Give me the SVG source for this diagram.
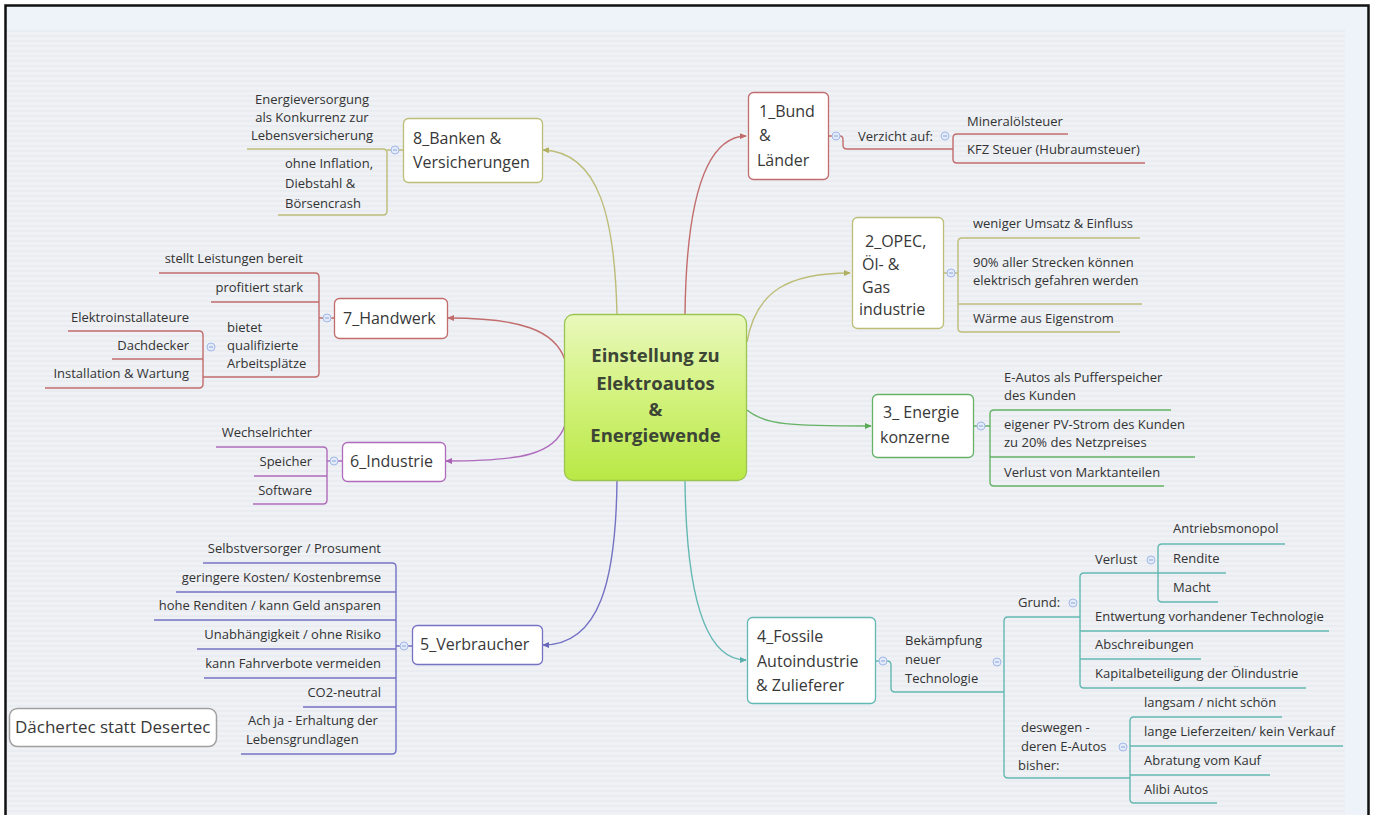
<svg xmlns="http://www.w3.org/2000/svg" width="1376" height="815" viewBox="0 0 1376 815">
<defs>
<style>
.t{font-family:"Open Sans","Noto Sans","DejaVu Sans",sans-serif;font-size:13px;fill:#333}
.ti{font-family:"Open Sans","Noto Sans","DejaVu Sans",sans-serif;font-size:16px;fill:#383838}
.ct{font-family:"Open Sans","Noto Sans","DejaVu Sans",sans-serif;font-size:18.5px;font-weight:bold;fill:#3c4536}
.e{text-anchor:end}
.m{text-anchor:middle}
.box{fill:#fff;stroke-width:1.3}
.ln{fill:none;stroke-width:1.4}
.cc{fill:#e3ebfa;stroke:#a2b8e6;stroke-width:1}
.cm{stroke:#8aa4d8;stroke-width:1}
.red{stroke:#c26c6c}
.olv{stroke:#bdbd78}
.grn{stroke:#66b266}
.tea{stroke:#64b8b2}
.blu{stroke:#7672c4}
.pur{stroke:#b06cbc}
</style>
<linearGradient id="cg" x1="0" y1="0" x2="0" y2="1">
<stop offset="0" stop-color="#e9f8bc"/>
<stop offset="0.5" stop-color="#d2f27c"/>
<stop offset="1" stop-color="#b9e845"/>
</linearGradient>
<pattern id="stripes" width="8" height="5" patternUnits="userSpaceOnUse">
<rect width="8" height="5" fill="#eff1f5"/>
<rect y="0" width="8" height="2" fill="#e9ecf1"/>
</pattern>
<marker id="aRed" viewBox="0 0 8 7" refX="7" refY="3.5" markerWidth="7" markerHeight="6" markerUnits="userSpaceOnUse" orient="auto"><path d="M0,0 L8,3.5 L0,7 z" fill="#c26c6c"/></marker>
<marker id="aOlv" viewBox="0 0 8 7" refX="7" refY="3.5" markerWidth="7" markerHeight="6" markerUnits="userSpaceOnUse" orient="auto"><path d="M0,0 L8,3.5 L0,7 z" fill="#b0b060"/></marker>
<marker id="aGrn" viewBox="0 0 8 7" refX="7" refY="3.5" markerWidth="7" markerHeight="6" markerUnits="userSpaceOnUse" orient="auto"><path d="M0,0 L8,3.5 L0,7 z" fill="#58aa58"/></marker>
<marker id="aTea" viewBox="0 0 8 7" refX="7" refY="3.5" markerWidth="7" markerHeight="6" markerUnits="userSpaceOnUse" orient="auto"><path d="M0,0 L8,3.5 L0,7 z" fill="#58b0aa"/></marker>
<marker id="aBlu" viewBox="0 0 8 7" refX="7" refY="3.5" markerWidth="7" markerHeight="6" markerUnits="userSpaceOnUse" orient="auto"><path d="M0,0 L8,3.5 L0,7 z" fill="#6a66bc"/></marker>
<marker id="aPur" viewBox="0 0 8 7" refX="7" refY="3.5" markerWidth="7" markerHeight="6" markerUnits="userSpaceOnUse" orient="auto"><path d="M0,0 L8,3.5 L0,7 z" fill="#a862b4"/></marker>
</defs>

<!-- background and frame -->
<rect x="0" y="0" width="1376" height="815" fill="#ffffff"/>
<rect x="6" y="6" width="1362" height="809" fill="#eef3fa"/>
<rect x="6" y="30" width="1339" height="785" fill="url(#stripes)"/>
<path d="M5.5,815 V5.5 H1368.5 V815" fill="none" stroke="#111" stroke-width="2.5"/>

<!-- connectors -->
<g id="connectors">
<!-- main curves -->
<path class="ln red" d="M685,315 C686,220 700,137 746,136" marker-end="url(#aRed)"/>
<path class="ln olv" d="M747,342 C756,290 790,273 850,273" marker-end="url(#aOlv)"/>
<path class="ln grn" d="M747,410 C765,425 790,426 871,426" marker-end="url(#aGrn)"/>
<path class="ln tea" d="M685,480 C686,580 700,660 746,660" marker-end="url(#aTea)"/>
<path class="ln blu" d="M617,480 C616,580 600,645 543,645" marker-end="url(#aBlu)"/>
<path class="ln pur" d="M565,425 C555,455 520,461 446,461" marker-end="url(#aPur)"/>
<path class="ln red" d="M565,360 C555,330 520,318 448,318" marker-end="url(#aRed)"/>
<path class="ln olv" d="M617,315 C615,220 600,152 543,150" marker-end="url(#aOlv)"/>

<!-- 1_Bund branch -->
<path class="ln red" d="M829,136 H832 M840,136 Q843,136 843,140 V145 Q843,149 847,149 H953"/>
<path class="ln red" d="M1068,134 H957 Q953,134 953,138 V159 Q953,163 957,163 H1145"/>
<!-- 2_OPEC branch -->
<path class="ln olv" d="M943,273 H947 M955,273 H958"/>
<path class="ln olv" d="M1140,238 H962 Q958,238 958,242 V328 Q958,332 962,332 H1120 M958,304 H1142"/>
<!-- 3_Energie branch -->
<path class="ln grn" d="M973,426 H977 M985,426 H990"/>
<path class="ln grn" d="M1171,410 H994 Q990,410 990,414 V482 Q990,486 994,486 H1164 M990,457 H1195"/>
<!-- 4_Fossile branch -->
<path class="ln tea" d="M875,661 H879 M887,661 Q891,661 891,665 V688 Q891,692 895,692 H1004"/>
<path class="ln tea" d="M1080,617 H1008 Q1004,617 1004,621 V774 Q1004,778 1008,778 H1130"/>
<path class="ln tea" d="M1158,573 H1084 Q1080,573 1080,577 V684 Q1080,688 1084,688 H1306 M1080,631 H1329 M1080,659 H1201"/>
<path class="ln tea" d="M1285,544 H1162 Q1158,544 1158,548 V598 Q1158,602 1162,602 H1218 M1158,573 H1226"/>
<path class="ln tea" d="M1282,717 H1134 Q1130,717 1130,721 V799 Q1130,803 1134,803 H1217 M1130,746 H1343 M1130,775 H1270"/>
<!-- 5_Verbraucher branch -->
<path class="ln blu" d="M412,646 H408 M400,646 H396"/>
<path class="ln blu" d="M203,563 H392 Q396,563 396,567 V750 Q396,754 392,754 H241 M396,592 H176 M396,620 H154 M396,649 H197 M396,678 H204 M396,707 H303"/>
<!-- 6_Industrie branch -->
<path class="ln pur" d="M342,461 H338 M330,461 H327"/>
<path class="ln pur" d="M216,447 H323 Q327,447 327,451 V500 Q327,504 323,504 H253 M327,476 H254"/>
<!-- 7_Handwerk branch -->
<path class="ln red" d="M334,318 H331 M323,318 H319"/>
<path class="ln red" d="M159,273 H315 Q319,273 319,277 V373 Q319,377 315,377 H203 M319,302 H211"/>
<path class="ln red" d="M68,331 H199 Q203,331 203,335 V384 Q203,388 199,388 H45 M203,359 H112"/>
<!-- 8_Banken branch -->
<path class="ln olv" d="M403,150 H399 M391,150 H387"/>
<path class="ln olv" d="M247,149 H383 Q387,149 387,153 V211 Q387,215 383,215 H278"/>
</g>

<!-- collapse buttons -->
<g id="collapse">
<circle class="cc" cx="836" cy="136" r="4"/><path class="cm" d="M834,136 H838"/>
<circle class="cc" cx="945" cy="136" r="4"/><path class="cm" d="M943,136 H947"/>
<circle class="cc" cx="951" cy="273" r="4"/><path class="cm" d="M949,273 H953"/>
<circle class="cc" cx="981" cy="426" r="4"/><path class="cm" d="M979,426 H983"/>
<circle class="cc" cx="883" cy="661" r="4"/><path class="cm" d="M881,661 H885"/>
<circle class="cc" cx="997" cy="662" r="4"/><path class="cm" d="M995,662 H999"/>
<circle class="cc" cx="1073" cy="603" r="4"/><path class="cm" d="M1071,603 H1075"/>
<circle class="cc" cx="1151" cy="560" r="4"/><path class="cm" d="M1149,560 H1153"/>
<circle class="cc" cx="1123" cy="747" r="4"/><path class="cm" d="M1121,747 H1125"/>
<circle class="cc" cx="404" cy="646" r="4"/><path class="cm" d="M402,646 H406"/>
<circle class="cc" cx="334" cy="461" r="4"/><path class="cm" d="M332,461 H336"/>
<circle class="cc" cx="327" cy="318" r="4"/><path class="cm" d="M325,318 H329"/>
<circle class="cc" cx="211" cy="347" r="4"/><path class="cm" d="M209,347 H213"/>
<circle class="cc" cx="395" cy="150" r="4"/><path class="cm" d="M393,150 H397"/>
</g>

<!-- central node -->
<g id="center">
<rect x="564.5" y="314.5" width="182" height="166" rx="9" fill="url(#cg)" stroke="#9cc452" stroke-width="1.3"/>
<text class="ct m" x="655.5" y="362">Einstellung zu</text>
<text class="ct m" x="655.5" y="390">Elektroautos</text>
<text class="ct m" x="655.5" y="416">&amp;</text>
<text class="ct m" x="655.5" y="442">Energiewende</text>
</g>

<!-- 1_Bund -->
<g id="n1">
<rect class="box red" x="748.5" y="92.5" width="80" height="87" rx="5"/>
<text class="ti" x="759" y="117">1_Bund</text>
<text class="ti" x="759" y="141">&amp;</text>
<text class="ti" x="757" y="166">Länder</text>
<text class="t" x="858" y="141">Verzicht auf:</text>
<text class="t" x="967" y="126">Mineralölsteuer</text>
<text class="t" x="967" y="154">KFZ Steuer (Hubraumsteuer)</text>
</g>

<!-- 2_OPEC -->
<g id="n2">
<rect class="box olv" x="852.5" y="217.5" width="91" height="111" rx="5"/>
<text class="ti" x="865" y="247">2_OPEC,</text>
<text class="ti" x="862" y="270">Öl- &amp;</text>
<text class="ti" x="862" y="293">Gas</text>
<text class="ti" x="859" y="315">industrie</text>
<text class="t" x="973" y="228">weniger Umsatz &amp; Einfluss</text>
<text class="t" x="973" y="267">90% aller Strecken können</text>
<text class="t" x="973" y="285">elektrisch gefahren werden</text>
<text class="t" x="973" y="323">Wärme aus Eigenstrom</text>
</g>

<!-- 3_Energie -->
<g id="n3">
<rect class="box grn" x="872.5" y="394.5" width="101" height="63" rx="5"/>
<text class="ti" x="883" y="418">3_ Energie</text>
<text class="ti" x="880" y="443">konzerne</text>
<text class="t" x="1004" y="382">E-Autos als Pufferspeicher</text>
<text class="t" x="1004" y="400">des Kunden</text>
<text class="t" x="1004" y="429">eigener PV-Strom des Kunden</text>
<text class="t" x="1004" y="447">zu 20% des Netzpreises</text>
<text class="t" x="1004" y="477">Verlust von Marktanteilen</text>
</g>

<!-- 4_Fossile -->
<g id="n4">
<rect class="box tea" x="747.5" y="617.5" width="128" height="86" rx="5"/>
<text class="ti" x="757" y="642">4_Fossile</text>
<text class="ti" x="757" y="667">Autoindustrie</text>
<text class="ti" x="756" y="691">&amp; Zulieferer</text>
<text class="t" x="905" y="645">Bekämpfung</text>
<text class="t" x="905" y="664">neuer</text>
<text class="t" x="905" y="683">Technologie</text>
<text class="t" x="1018" y="607">Grund:</text>
<text class="t" x="1095" y="564">Verlust</text>
<text class="t" x="1173" y="533">Antriebsmonopol</text>
<text class="t" x="1173" y="563">Rendite</text>
<text class="t" x="1173" y="592">Macht</text>
<text class="t" x="1095" y="621">Entwertung vorhandener Technologie</text>
<text class="t" x="1095" y="649">Abschreibungen</text>
<text class="t" x="1095" y="678">Kapitalbeteiligung der Ölindustrie</text>
<text class="t" x="1021" y="732">deswegen -</text>
<text class="t" x="1021" y="751">deren E-Autos</text>
<text class="t" x="1018" y="770">bisher:</text>
<text class="t" x="1144" y="707">langsam / nicht schön</text>
<text class="t" x="1144" y="736">lange Lieferzeiten/ kein Verkauf</text>
<text class="t" x="1144" y="765">Abratung vom Kauf</text>
<text class="t" x="1144" y="794">Alibi Autos</text>
</g>

<!-- 5_Verbraucher -->
<g id="n5">
<rect class="box blu" x="412.5" y="625.5" width="130" height="39" rx="5"/>
<text class="ti" x="420" y="650">5_Verbraucher</text>
<text class="t e" x="381" y="553">Selbstversorger / Prosument</text>
<text class="t e" x="381" y="582">geringere Kosten/ Kostenbremse</text>
<text class="t e" x="381" y="610">hohe Renditen / kann Geld ansparen</text>
<text class="t e" x="381" y="639">Unabhängigkeit / ohne Risiko</text>
<text class="t e" x="381" y="668">kann Fahrverbote vermeiden</text>
<text class="t e" x="381" y="697">CO2-neutral</text>
<text class="t" x="248" y="725">Ach ja - Erhaltung der</text>
<text class="t" x="246" y="744">Lebensgrundlagen</text>
</g>

<!-- 6_Industrie -->
<g id="n6">
<rect class="box pur" x="342.5" y="442.5" width="103" height="39" rx="5"/>
<text class="ti" x="350" y="467">6_Industrie</text>
<text class="t e" x="312" y="437">Wechselrichter</text>
<text class="t e" x="312" y="466">Speicher</text>
<text class="t e" x="312" y="495">Software</text>
</g>

<!-- 7_Handwerk -->
<g id="n7">
<rect class="box red" x="334.5" y="298.5" width="113" height="40" rx="5"/>
<text class="ti" x="343" y="324">7_Handwerk</text>
<text class="t e" x="303" y="263">stellt Leistungen bereit</text>
<text class="t e" x="303" y="292">profitiert stark</text>
<text class="t" x="227" y="332">bietet</text>
<text class="t" x="227" y="350">qualifizierte</text>
<text class="t" x="227" y="368">Arbeitsplätze</text>
<text class="t e" x="189" y="322">Elektroinstallateure</text>
<text class="t e" x="189" y="350">Dachdecker</text>
<text class="t e" x="189" y="378">Installation &amp; Wartung</text>
</g>

<!-- 8_Banken -->
<g id="n8">
<rect class="box olv" x="403.5" y="118.5" width="139" height="64" rx="5"/>
<text class="ti" x="413" y="144">8_Banken &amp;</text>
<text class="ti" x="413" y="168">Versicherungen</text>
<text class="t m" x="312" y="104">Energieversorgung</text>
<text class="t m" x="312" y="122">als Konkurrenz zur</text>
<text class="t m" x="312" y="140">Lebensversicherung</text>
<text class="t" x="285" y="168">ohne Inflation,</text>
<text class="t" x="285" y="188">Diebstahl &amp;</text>
<text class="t" x="285" y="208">Börsencrash</text>
</g>

<!-- free topic -->
<g id="dachertec">
<rect x="9.5" y="708.5" width="207" height="38" rx="8" fill="#fff" stroke="#a0a0a0" stroke-width="1.5"/>
<text class="ti" x="15" y="733" style="font-size:17px">Dächertec statt Desertec</text>
</g>
</svg>
